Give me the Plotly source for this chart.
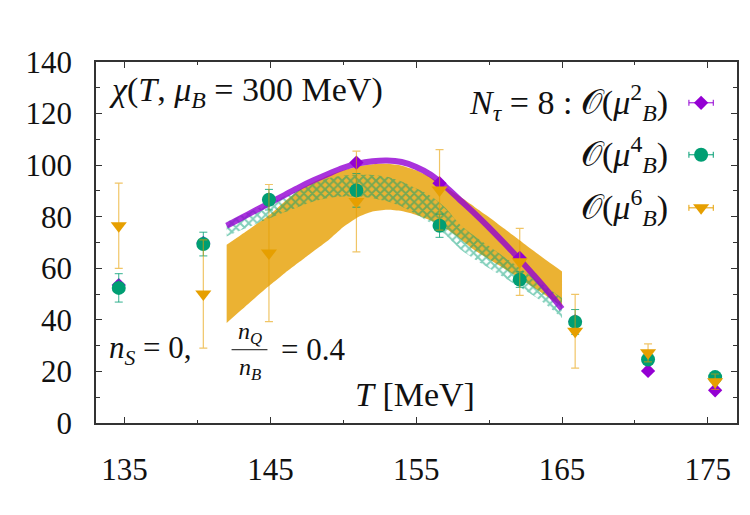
import plotly.graph_objects as go

# ---------------- data ----------------
T_pts = [134.6, 140.4, 144.9, 150.9, 156.6, 162.1, 165.9, 170.9, 175.5]

chi_mu2 = [53.5, 69.8, 86.6, 101.0, 93.0, 64.0, 39.5, 20.2, 12.7]
err_mu2 = [0.8, 0.8, 0.8, 0.8, 0.8, 0.8, 0.8, 0.6, 0.5]

chi_mu4 = [52.4, 69.4, 86.6, 90.2, 76.5, 55.6, 39.2, 24.6, 17.8]
err_mu4 = [5.5, 4.6, 4.0, 6.5, 4.5, 3.0, 4.8, 2.0, 1.5]

chi_mu6 = [76.5, 50.0, 65.9, 85.9, 90.4, 62.5, 35.6, 27.2, 16.0]
err_mu6 = [16.5, 21.0, 26.6, 19.5, 15.6, 13.0, 14.3, 3.5, 3.0]

T_band = [142, 143, 144, 145, 146, 147, 148, 149, 150, 151, 152, 153,
          154, 155, 156, 157, 158, 159, 160, 161, 162, 163, 164, 165]

line_mu2 = [76.5, 79.5, 82.5, 85.5, 88.5, 91.5, 94.2, 96.7, 99.0, 100.6, 101.5, 101.8,
            101.2, 99.3, 96.3, 91.7, 86.5, 81.3, 75.8, 70.0, 64.0, 57.7, 51.2, 44.3]

band_mu4_hi = [78.0, 80.5, 83.0, 85.3, 88.0, 90.5, 93.0, 95.0, 96.0, 96.2, 96.2, 95.5,
               93.7, 91.0, 88.0, 83.5, 77.0, 72.5, 68.5, 64.5, 60.5, 56.5, 52.5, 48.5]
band_mu4_lo = [72.3, 74.8, 77.2, 79.5, 81.8, 84.0, 86.0, 87.3, 87.8, 87.8, 87.2, 86.0,
               84.0, 81.0, 77.5, 73.0, 67.5, 63.5, 60.0, 56.5, 53.0, 49.5, 45.5, 40.7]

band_mu6_hi = [69.1, 73.0, 77.0, 81.0, 86.0, 90.5, 93.5, 96.0, 98.0, 99.4, 100.3, 100.5,
               99.8, 98.0, 95.2, 91.5, 87.8, 83.8, 79.8, 75.5, 71.3, 67.0, 62.8, 58.8]
band_mu6_lo = [38.8, 43.8, 48.8, 53.6, 58.2, 62.5, 66.8, 71.0, 76.0, 79.8, 82.0, 82.7,
               82.2, 80.7, 78.5, 75.5, 71.5, 67.0, 63.5, 60.0, 56.5, 52.7, 49.0, 45.2]

x_ticks = [135, 145, 155, 165, 175]
y_ticks = [0, 20, 40, 60, 80, 100, 120, 140]

PURPLE = "#9400D3"
GREEN = "#009E73"
ORANGE = "#E69F00"
FONT = "Liberation Serif, Times New Roman, DejaVu Serif, serif"

fig = go.Figure()

# orange band O(mu^6)
fig.add_trace(go.Scatter(
    x=T_band, y=band_mu6_lo, mode="lines",
    line=dict(width=0, shape="spline", smoothing=0.6, color="rgba(0,0,0,0)"),
    hoverinfo="skip", showlegend=False))
fig.add_trace(go.Scatter(
    x=T_band, y=band_mu6_hi, mode="lines", fill="tonexty",
    fillcolor="rgba(230,159,0,0.8)",
    line=dict(width=0, shape="spline", smoothing=0.6, color="rgba(0,0,0,0)"),
    hoverinfo="skip", showlegend=False))

# hatched band O(mu^4)
fig.add_trace(go.Scatter(
    x=T_band, y=band_mu4_lo, mode="lines",
    line=dict(width=0, shape="spline", smoothing=0.6, color="rgba(0,0,0,0)"),
    hoverinfo="skip", showlegend=False))
fig.add_trace(go.Scatter(
    x=T_band, y=band_mu4_hi, mode="lines", fill="tonexty",
    fillcolor="rgba(0,0,0,0)",
    fillpattern=dict(shape="x", fgcolor=GREEN, bgcolor="rgba(0,0,0,0)", size=6, solidity=0.55),
    line=dict(width=0, shape="spline", smoothing=0.6, color="rgba(0,0,0,0)"),
    hoverinfo="skip", showlegend=False))

# purple line O(mu^2)
fig.add_trace(go.Scatter(
    x=T_band, y=line_mu2, mode="lines",
    line=dict(color="rgba(148,0,211,0.8)", width=6, shape="spline", smoothing=1.0),
    hoverinfo="skip", showlegend=False))

# data points
fig.add_trace(go.Scatter(
    x=T_pts, y=chi_mu2, mode="markers",
    marker=dict(symbol="diamond", size=11, color=PURPLE, line=dict(width=0)),
    error_y=dict(type="data", array=err_mu2, color=PURPLE, thickness=1, width=4),
    showlegend=False))
fig.add_trace(go.Scatter(
    x=T_pts, y=chi_mu4, mode="markers",
    marker=dict(symbol="circle", size=14, color=GREEN, line=dict(width=0)),
    error_y=dict(type="data", array=err_mu4, color="rgba(0,158,115,0.8)", thickness=1, width=4),
    showlegend=False))
fig.add_trace(go.Scatter(
    x=T_pts, y=chi_mu6, mode="markers",
    marker=dict(symbol="triangle-down", size=14, color=ORANGE, line=dict(width=0)),
    error_y=dict(type="data", array=err_mu6, color="rgba(230,159,0,0.6)", thickness=1.2, width=4),
    showlegend=False))

# legend keys (drawn on a hidden overlay axis in plot-fraction units)
key_x = [0.944]
for yk, sym, col, sz in [(0.887, "diamond", PURPLE, 11), (0.743, "circle", GREEN, 14),
                         (0.596, "triangle-down", ORANGE, 14)]:
    fig.add_trace(go.Scatter(
        x=key_x, y=[yk], xaxis="x2", yaxis="y2", mode="markers",
        marker=dict(symbol=sym, size=sz, color=col),
        error_x=dict(type="data", array=[0.019], color=col, thickness=1, width=3),
        showlegend=False, hoverinfo="skip"))

axis_common = dict(
    showline=True, linecolor="#333333", linewidth=1.5, mirror="ticks",
    ticks="inside", ticklen=6, tickwidth=1, tickcolor="#333333",
    showgrid=False, zeroline=False,
    tickfont=dict(family=FONT, size=31, color="#111111"),
)

fig.update_layout(
    width=750, height=515,
    margin=dict(l=96, r=11, t=62, b=91.5, pad=0),
    paper_bgcolor="white", plot_bgcolor="white",
    font=dict(family=FONT, size=31, color="#111111"),
    xaxis=dict(range=[133.04, 177.0], tickvals=x_ticks, ticklabelstandoff=18,
               minor=dict(dtick=5, tick0=135, ticks="inside", ticklen=3, tickcolor="#333333"),
               **axis_common),
    yaxis=dict(range=[0, 140], tickvals=y_ticks, ticklabelstandoff=16,
               minor=dict(dtick=10, tick0=0, ticks="inside", ticklen=4, tickcolor="#333333"),
               **axis_common),
    xaxis2=dict(overlaying="x", range=[0, 1], visible=False),
    yaxis2=dict(overlaying="y", range=[0, 1], visible=False),
    showlegend=False,
)

tf = dict(family=FONT, size=31, color="#111111")
big = dict(family=FONT, size=34, color="#111111")
ann = [
    dict(x=0.017, y=0.917, xanchor="left", yanchor="middle", font=big,
         text="<i>χ</i>(<i>T</i>, <i>μ</i><sub><i>B</i></sub> = 300 MeV)"),
    dict(x=0.896, y=0.887, xanchor="right", yanchor="middle", font=big,
         text="<i>N</i><sub><i>τ</i></sub> = 8 : 𝒪(<i>μ</i><sup>2</sup><sub><i>B</i></sub>)"),
    dict(x=0.896, y=0.743, xanchor="right", yanchor="middle", font=big,
         text="𝒪(<i>μ</i><sup>4</sup><sub><i>B</i></sub>)"),
    dict(x=0.896, y=0.596, xanchor="right", yanchor="middle", font=big,
         text="𝒪(<i>μ</i><sup>6</sup><sub><i>B</i></sub>)"),
    dict(x=0.017, y=0.203, xanchor="left", yanchor="middle",
         text="<i>n</i><sub><i>S</i></sub> = 0,"),
    dict(x=0.2395, y=0.250, xanchor="center", yanchor="middle",
         text="<i>n</i><sub><i>Q</i></sub>", font=dict(family=FONT, size=24, color="#111111")),
    dict(x=0.2395, y=0.150, xanchor="center", yanchor="middle",
         text="<i>n</i><sub><i>B</i></sub>", font=dict(family=FONT, size=24, color="#111111")),
    dict(x=0.286, y=0.203, xanchor="left", yanchor="middle", text="= 0.4"),
    dict(x=0.498, y=0.079, xanchor="center", yanchor="middle", font=big, text="<i>T</i> [MeV]"),
]
for a in ann:
    a.setdefault("font", tf)
    fig.add_annotation(xref="paper", yref="paper", showarrow=False, **a)

fig.add_shape(type="line", xref="paper", yref="paper", x0=0.2115, x1=0.2675, y0=0.203, y1=0.203,
              line=dict(color="#111111", width=1))

fig.write_html("out.html")
